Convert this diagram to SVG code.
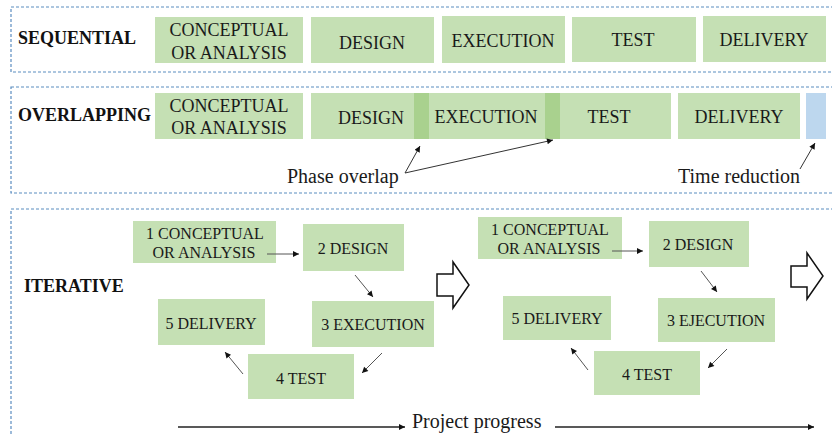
<svg xmlns="http://www.w3.org/2000/svg" width="832" height="436" viewBox="0 0 832 436">
  <style>
    .frame { fill: none; stroke: #5b8dc0; stroke-width: 1.2; stroke-dasharray: 3 2; }
    .phase { fill: #c5e0b4; }
    .overlap { fill: #a9d18e; }
    .saved { fill: #bdd7ee; }
    .head { font-family: "Liberation Serif", "Times New Roman", serif; font-weight: bold; font-size: 18px; fill: #111; }
    .t18 { font-family: "Liberation Serif", "Times New Roman", serif; font-size: 18px; fill: #1a1a1a; text-anchor: middle; }
    .t16 { font-family: "Liberation Serif", "Times New Roman", serif; font-size: 16px; fill: #1a1a1a; text-anchor: middle; }
    .note { font-family: "Liberation Serif", "Times New Roman", serif; font-size: 20px; fill: #1a1a1a; }
    .link { fill: none; stroke: #333; stroke-width: 1; marker-end: url(#tip); }
    .link2 { fill: none; stroke: #555; stroke-width: 1; marker-end: url(#tip); }
    .axis { fill: none; stroke: #222; stroke-width: 1.5; marker-end: url(#tipBig); }
    .block { fill: #fff; stroke: #111; stroke-width: 1.5; stroke-linejoin: miter; }
  </style>
  <defs>
    <marker id="tip" viewBox="0 0 10 10" refX="10" refY="5" markerWidth="7" markerHeight="6" markerUnits="userSpaceOnUse" orient="auto">
      <path d="M0,0 L10,5 L0,10 z" fill="#111"/>
    </marker>
    <marker id="tipBig" viewBox="0 0 10 10" refX="10" refY="5" markerWidth="8" markerHeight="6" markerUnits="userSpaceOnUse" orient="auto">
      <path d="M0,0 L10,5 L0,10 z" fill="#111"/>
    </marker>
  </defs>

  <rect width="832" height="436" fill="#fff"/>

  <!-- section frames (open on the right and bottom) -->
  <rect class="frame" x="11" y="7" width="840" height="65"/>
  <rect class="frame" x="11" y="87" width="840" height="106"/>
  <rect class="frame" x="11" y="209" width="840" height="260"/>

  <!-- SEQUENTIAL -->
  <g id="sequential">
    <text class="head" x="18" y="44">SEQUENTIAL</text>
    <g id="seq-concept">
      <rect class="phase" x="155" y="17" width="148" height="46"/>
      <text class="t18" x="229" y="36">CONCEPTUAL</text>
      <text class="t18" x="229" y="59">OR ANALYSIS</text>
    </g>
    <g id="seq-design">
      <rect class="phase" x="311" y="17" width="123" height="46"/>
      <text class="t18" x="372" y="49">DESIGN</text>
    </g>
    <g id="seq-execution">
      <rect class="phase" x="442" y="16" width="123" height="47"/>
      <text class="t18" x="503" y="47">EXECUTION</text>
    </g>
    <g id="seq-test">
      <rect class="phase" x="572" y="17" width="124" height="45"/>
      <text class="t18" x="633" y="46">TEST</text>
    </g>
    <g id="seq-delivery">
      <rect class="phase" x="703" y="16" width="123" height="46"/>
      <text class="t18" x="764" y="46">DELIVERY</text>
    </g>
  </g>

  <!-- OVERLAPPING -->
  <g id="overlapping">
    <text class="head" x="18" y="121">OVERLAPPING</text>
    <g id="ov-concept">
      <rect class="phase" x="155" y="93" width="148" height="46"/>
      <text class="t18" x="229" y="112">CONCEPTUAL</text>
      <text class="t18" x="229" y="134">OR ANALYSIS</text>
    </g>
    <g id="ov-design">
      <rect class="phase" x="311" y="93" width="118" height="46"/>
      <text class="t18" x="371" y="124">DESIGN</text>
    </g>
    <g id="ov-execution">
      <rect class="phase" x="414" y="93" width="146" height="46"/>
      <rect class="overlap" x="414" y="93" width="15" height="46"/>
      <text class="t18" x="486" y="123">EXECUTION</text>
    </g>
    <g id="ov-test">
      <rect class="phase" x="545" y="93" width="126" height="46"/>
      <rect class="overlap" x="545" y="93" width="15" height="46"/>
      <text class="t18" x="609" y="123">TEST</text>
    </g>
    <g id="ov-delivery">
      <rect class="phase" x="678" y="93" width="122" height="46"/>
      <text class="t18" x="739" y="123">DELIVERY</text>
    </g>
    <g id="ov-saved">
      <rect class="saved" x="806" y="93" width="20" height="46"/>
    </g>
    <text class="note" x="287" y="183">Phase overlap</text>
    <text class="note" x="678" y="183">Time reduction</text>
  </g>

  <!-- ITERATIVE -->
  <g id="iterative">
    <text class="head" x="24" y="292">ITERATIVE</text>

    <g id="it1-concept">
      <rect class="phase" x="133" y="221" width="143" height="42"/>
      <text class="t16" x="205" y="239">1 CONCEPTUAL</text>
      <text class="t16" x="204" y="258">OR ANALYSIS</text>
    </g>
    <g id="it1-design">
      <rect class="phase" x="303" y="224" width="101" height="47"/>
      <text class="t16" x="353" y="254">2 DESIGN</text>
    </g>
    <g id="it1-execution">
      <rect class="phase" x="312" y="301" width="122" height="46"/>
      <text class="t16" x="373" y="330">3 EXECUTION</text>
    </g>
    <g id="it1-test">
      <rect class="phase" x="248" y="354" width="106" height="45"/>
      <text class="t16" x="301" y="384">4 TEST</text>
    </g>
    <g id="it1-delivery">
      <rect class="phase" x="158" y="299" width="107" height="46"/>
      <text class="t16" x="211" y="329">5 DELIVERY</text>
    </g>

    <g id="it2-concept">
      <rect class="phase" x="478" y="217" width="144" height="42"/>
      <text class="t16" x="550" y="235">1 CONCEPTUAL</text>
      <text class="t16" x="549" y="254">OR ANALYSIS</text>
    </g>
    <g id="it2-design">
      <rect class="phase" x="649" y="221" width="100" height="46"/>
      <text class="t16" x="698" y="250">2 DESIGN</text>
    </g>
    <g id="it2-execution">
      <rect class="phase" x="658" y="298" width="117" height="44"/>
      <text class="t16" x="716" y="326">3 EJECUTION</text>
    </g>
    <g id="it2-test">
      <rect class="phase" x="594" y="351" width="106" height="44"/>
      <text class="t16" x="647" y="380">4 TEST</text>
    </g>
    <g id="it2-delivery">
      <rect class="phase" x="503" y="296" width="108" height="44"/>
      <text class="t16" x="557" y="324">5 DELIVERY</text>
    </g>

    <!-- block arrows between iterations -->
    <g id="next-1">
      <path class="block" d="M437,274 L453,274 L453,262 L469,285 L453,308 L453,296 L437,296 Z"/>
    </g>
    <g id="next-2">
      <path class="block" d="M791,266 L807,266 L807,253 L823,276 L807,299 L807,287 L791,287 Z"/>
    </g>

    <text class="note" x="412" y="428">Project progress</text>
  </g>

  <!-- connectors -->
  <g id="connectors">
    <!-- overlap callouts -->
    <path class="link" d="M405,173 L420,146"/>
    <path class="link" d="M405,173 L553,140"/>
    <path class="link" d="M800,169 L815,143"/>

    <!-- iteration 1 cycle -->
    <path class="link2" d="M267,254 L299,254"/>
    <path class="link2" d="M355,275 L373,297"/>
    <path class="link2" d="M382,353 L362,373"/>
    <path class="link2" d="M243,374 L225,352"/>

    <!-- iteration 2 cycle -->
    <path class="link2" d="M612,251 L643,251"/>
    <path class="link2" d="M701,271 L717,292"/>
    <path class="link2" d="M727,349 L708,368"/>
    <path class="link2" d="M588,370 L571,348"/>

    <!-- progress axis -->
    <path class="axis" d="M178,427 L405,427"/>
    <path class="axis" d="M555,427 L814,427"/>
  </g>
</svg>
